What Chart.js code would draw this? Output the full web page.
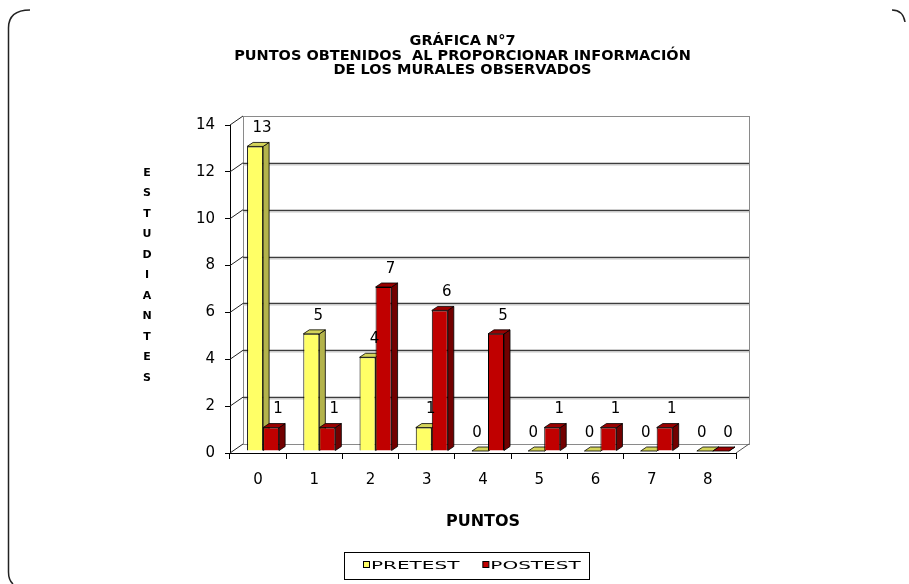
<!DOCTYPE html>
<html>
<head>
<meta charset="utf-8">
<script src="https://cdn.jsdelivr.net/npm/chart.js@4.4.1/dist/chart.umd.min.js"></script>
<style>
  html, body { margin: 0; padding: 0; background: #fff; }
  #wrap { width: 909px; height: 584px; }
</style>
</head>
<body>
<div id="wrap"><canvas id="myChart" width="909" height="584"></canvas></div>
<script>
const categories = ["0", "1", "2", "3", "4", "5", "6", "7", "8"];
const pretest = [13, 5, 4, 1, 0, 0, 0, 0, 0];
const postest = [1, 1, 7, 6, 5, 1, 1, 1, 0];
const seriesNames = ["PRETEST", "POSTEST"];
const titleLines = ["GRÁFICA N°7", "PUNTOS OBTENIDOS  AL PROPORCIONAR INFORMACIÓN", "DE LOS MURALES OBSERVADOS"];
const yTitle = "ESTUDIANTES";
const xTitle = "PUNTOS";

const frontColors = ["#FFFF66", "#C00000"];
const sideColors = ["#B3B34B", "#720000"];
const topColors = ["#D4D45A", "#9A0000"];

const DX = 13, DY = -9;        // wall depth
const BD = 6, BDY = -4;        // bar depth
const SHIFT_X = 5, SHIFT_Y = -2;

// rounded frame around the picture
const framePlugin = {
  id: "frame",
  beforeDraw(chart) {
    const ctx = chart.ctx;
    ctx.save();
    ctx.fillStyle = "#fff";
    ctx.fillRect(0, 0, chart.width, chart.height);
    ctx.strokeStyle = "#222";
    ctx.lineWidth = 1.5;
    ctx.beginPath();
    ctx.moveTo(13, 584);
    ctx.quadraticCurveTo(8.5, 580, 8.5, 572);
    ctx.lineTo(8.5, 28);
    ctx.quadraticCurveTo(8.5, 10, 30, 10);
    ctx.stroke();
    ctx.beginPath();
    ctx.moveTo(892, 10);
    ctx.quadraticCurveTo(903, 10, 905, 22);
    ctx.stroke();
    ctx.restore();
  }
};

// walls, floor and 3D bars
const threeDPlugin = {
  id: "threeD",
  beforeDatasetsDraw(chart) {
    const ctx = chart.ctx;
    const { left, right, top, bottom } = chart.chartArea;
    const y = chart.scales.y;
    ctx.save();
    // back wall
    ctx.strokeStyle = "#8a8a8a";
    ctx.lineWidth = 1;
    ctx.strokeRect(left + DX + 0.5, top + DY + 0.5, right - left, bottom - top);
    // gridlines on back wall
    y.ticks.forEach(t => {
      const py = Math.round(y.getPixelForValue(t.value) + DY) + 0.5;
      if (t.value > 0 && t.value < 14) {
        ctx.strokeStyle = "#3c3c3c";
        ctx.lineWidth = 1.6;
        ctx.beginPath();
        ctx.moveTo(left + DX, py);
        ctx.lineTo(right + DX, py);
        ctx.stroke();
        ctx.strokeStyle = "#c8c8c8";
        ctx.lineWidth = 1;
        ctx.beginPath();
        ctx.moveTo(left + DX, py + 1.5);
        ctx.lineTo(right + DX, py + 1.5);
        ctx.stroke();
      }
      // diagonal on the left wall
      ctx.strokeStyle = "#222";
      ctx.lineWidth = 1;
      ctx.beginPath();
      ctx.moveTo(left, y.getPixelForValue(t.value));
      ctx.lineTo(left + DX, y.getPixelForValue(t.value) + DY);
      ctx.stroke();
    });
    // floor right edge
    ctx.strokeStyle = "#555";
    ctx.beginPath();
    ctx.moveTo(right, bottom);
    ctx.lineTo(right + DX, bottom + DY);
    ctx.stroke();
    ctx.restore();

    // side and top faces of the bars
    ctx.save();
    ctx.translate(SHIFT_X, SHIFT_Y);
    chart.data.datasets.forEach((ds, i) => {
      chart.getDatasetMeta(i).data.forEach(el => {
        const p = el.getProps(["x", "y", "base", "width"], true);
        const l = p.x - p.width / 2, r = p.x + p.width / 2;
        ctx.lineWidth = 0.8;
        ctx.strokeStyle = "#000";
        ctx.fillStyle = sideColors[i];
        ctx.beginPath();
        ctx.moveTo(r, p.y);
        ctx.lineTo(r + BD, p.y + BDY);
        ctx.lineTo(r + BD, p.base + BDY);
        ctx.lineTo(r, p.base);
        ctx.closePath();
        ctx.fill();
        ctx.stroke();
        ctx.fillStyle = topColors[i];
        ctx.beginPath();
        ctx.moveTo(l, p.y);
        ctx.lineTo(l + BD, p.y + BDY);
        ctx.lineTo(r + BD, p.y + BDY);
        ctx.lineTo(r, p.y);
        ctx.closePath();
        ctx.fill();
        ctx.stroke();
      });
    });
    // keep the translation for the front faces drawn by Chart.js
  },
  afterDatasetsDraw(chart) {
    const ctx = chart.ctx;
    ctx.restore();
    // value labels
    ctx.save();
    ctx.font = "15px 'DejaVu Sans'";
    ctx.fillStyle = "#000";
    ctx.textAlign = "center";
    ctx.textBaseline = "middle";
    chart.data.datasets.forEach((ds, i) => {
      chart.getDatasetMeta(i).data.forEach((el, j) => {
        const p = el.getProps(["x", "y"], true);
        const off = (i === 0 && ds.data[j] === 0) ? -3 : 7;
        ctx.fillText(String(ds.data[j]), p.x + SHIFT_X + off, p.y + SHIFT_Y - 18);
      });
    });
    ctx.restore();
  }
};

// stacked letters of the y title and boxed legend
const textPlugin = {
  id: "texts",
  afterDraw(chart) {
    const ctx = chart.ctx;
    ctx.save();
    ctx.font = "bold 11px 'DejaVu Sans'";
    ctx.fillStyle = "#000";
    ctx.textAlign = "center";
    ctx.textBaseline = "middle";
    yTitle.split("").forEach((ch, k) => ctx.fillText(ch, 147, 173 + k * 20.5));

    // legend
    ctx.strokeStyle = "#000";
    ctx.lineWidth = 1;
    ctx.strokeRect(344.5, 552.5, 245, 27);
    ctx.font = "10px 'DejaVu Sans'";
    ctx.textAlign = "left";
    const sx = 2.0;
    let x = 363;
    chart.data.datasets.forEach((ds, i) => {
      ctx.fillStyle = frontColors[i];
      ctx.fillRect(x + 0.5, 561.5, 6, 6);
      ctx.strokeRect(x + 0.5, 561.5, 6, 6);
      const tx = x + 8;
      ctx.save();
      ctx.translate(tx, 566);
      ctx.scale(sx, 1);
      ctx.fillStyle = "#000";
      ctx.fillText(ds.label, 0, 0);
      const w = ctx.measureText(ds.label).width * sx;
      ctx.restore();
      x = tx + w + 23;
    });
    ctx.restore();
  }
};

new Chart(document.getElementById("myChart").getContext("2d"), {
  type: "bar",
  data: {
    labels: categories,
    datasets: [
      { label: seriesNames[0], data: pretest, backgroundColor: frontColors[0], borderColor: "#000", borderWidth: 1, clip: false },
      { label: seriesNames[1], data: postest, backgroundColor: frontColors[1], borderColor: "#000", borderWidth: 1, clip: false }
    ]
  },
  options: {
    responsive: false,
    animation: false,
    layout: { padding: { left: 16, right: 0, top: 0, bottom: 0 } },
    datasets: { bar: { categoryPercentage: 0.57, barPercentage: 1 } },
    plugins: {
      legend: { display: false },
      tooltip: { enabled: false },
      title: {
        display: true,
        text: titleLines,
        color: "#000",
        font: { family: "DejaVu Sans", size: 14.5, weight: "bold", lineHeight: 1.0 },
        padding: { top: 34, bottom: 47.5 }
      }
    },
    scales: {
      x: {
        grid: { offset: true, drawOnChartArea: false, tickLength: 6, color: "#000" },
        border: { display: true, color: "#000" },
        ticks: { color: "#000", padding: 12, font: { family: "DejaVu Sans", size: 15 } },
        title: {
          display: true, text: xTitle, color: "#000",
          font: { family: "DejaVu Sans", size: 16, weight: "bold" },
          padding: { top: 0, bottom: 53 }
        },
        afterFit: s => { s.height = 131; }
      },
      y: {
        min: 0, max: 14,
        ticks: { stepSize: 2, color: "#000", padding: 10, font: { family: "DejaVu Sans", size: 15 } },
        grid: { drawOnChartArea: false, tickLength: 5, color: "#000" },
        border: { display: true, color: "#000" },
        afterFit: s => { s.width = 214; }
      },
      yR: {
        type: "linear",
        position: "right",
        grid: { display: false },
        ticks: { display: false },
        border: { display: false },
        afterFit: s => { s.width = 173; }
      }
    }
  },
  plugins: [framePlugin, threeDPlugin, textPlugin]
});
</script>
</body>
</html>
